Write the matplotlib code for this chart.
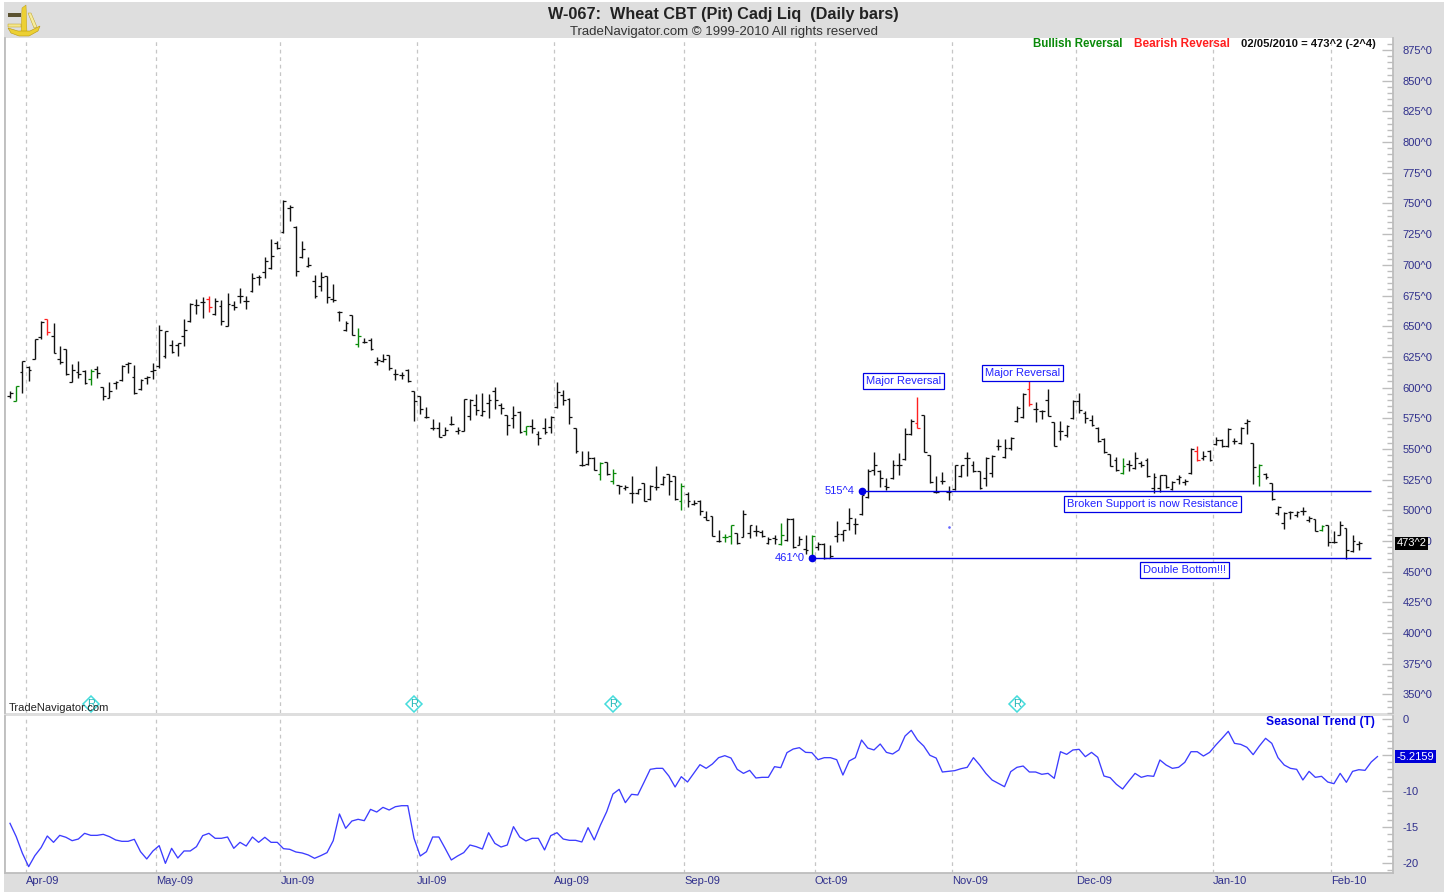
import matplotlib
matplotlib.use('Agg')
import matplotlib.pyplot as plt
import numpy as np
from matplotlib.patches import Polygon, Rectangle
from matplotlib.ticker import AutoMinorLocator, FuncFormatter, MultipleLocator

plt.rcParams['font.family'] = ['Liberation Sans', 'DejaVu Sans']
plt.rcParams['axes.unicode_minus'] = False

# daily bars, oldest first
highs = [
    597.5, 601.3, 621.3, 617.3, 639.8, 653.9, 655.8, 652.5, 633.5, 631.6,
    619.2, 621.3, 614, 615, 617.8, 600.7, 604.8, 605.3, 618.6, 621,
    618.4, 607.2, 609.7, 619.7, 651, 646.3, 639, 636, 655.8, 668.8,
    672.3, 673.7, 674.8, 672.6, 671, 677.2, 670.2, 681.3, 674.8, 693.2,
    691.6, 706, 721.2, 719.6, 753, 748.9, 732, 719.6, 706, 691.6,
    693.8, 691.3, 684.3, 662.6, 653.9, 659.3, 648.5, 640, 640, 625.3,
    627.5, 626.7, 615, 612.6, 615, 596.9, 592.8, 584, 574.6, 571.9,
    567.8, 576.5, 567.8, 590.9, 590.6, 594.7, 596, 595, 600.1, 587.3,
    577.9, 585.2, 580.6, 568.9, 574.6, 564.3, 575.1, 577, 604.4, 598.2,
    591.4, 567, 548.6, 548.6, 543.1, 539, 539, 533.9, 520.9, 520.9,
    527.7, 517.6, 522.2, 520.3, 536.3, 528.2, 529.8, 528.2, 522.2, 514.6,
    508.7, 508.1, 499.2, 495.7, 483.8, 481.1, 488.4, 481.6, 500, 488.4,
    488.4, 484.3, 478.1, 480.3, 489.8, 493.8, 493.8, 478.9, 480.3, 479.7,
    474, 473.5, 471.6, 491.1, 484.3, 502, 493.8, 512.8, 533.7, 547.3,
    533.2, 526.4, 541.3, 546.7, 567, 574.4, 592.3, 577.9, 545.4, 528.3,
    531, 520.1, 537.2, 537.2, 547.3, 540, 532.4, 543.2, 544.8, 558.1,
    558.1, 559.5, 584.7, 595.6, 605, 588.2, 582, 598.8, 572, 573,
    569.3, 589.6, 595.6, 580.6, 577.9, 567.6, 558.9, 546.2, 543.2, 542.7,
    541.3, 547.5, 540.5, 542.7, 530.5, 529.1, 529.1, 523.7, 528.6, 525.8,
    550.8, 552.7, 548.1, 548.9, 559.8, 558.1, 567.1, 558.9, 567.6, 574.4,
    554.9, 537.8, 530.5, 522.3, 503.3, 498.7, 499.3, 499.8, 502.5, 495.2,
    493.3, 488.4, 488.4, 483, 491.1, 485.7, 479.7, 475.4,
]
lows = [
    591.5, 588.8, 596, 605, 623.2, 639.5, 643, 628, 619.4, 610.2,
    604.5, 607.5, 603, 601.8, 608, 589.6, 591.2, 599, 605.6, 611.8,
    595, 598.3, 603.2, 607.2, 616.2, 624, 628, 626, 633.5, 653.6,
    660, 656.6, 661.5, 659.3, 650.9, 649.8, 663.4, 668.8, 664.2, 678,
    683.2, 689.2, 697, 713, 726.3, 736, 691.3, 705.2, 698, 673.2,
    678.3, 668.8, 669.4, 653.9, 645.8, 642.8, 632.7, 636, 630.8, 618.6,
    620.5, 614, 606.3, 606.9, 604.4, 572.4, 578.7, 575, 565.1, 559.4,
    561, 569.2, 562.4, 564.3, 573.2, 577.9, 577, 575.1, 582.7, 578.7,
    561.6, 567, 563, 561, 562.9, 552.9, 562.4, 562.9, 583.3, 586,
    570.5, 546.7, 536.3, 537.2, 532.5, 525, 529, 521.7, 513.6, 516.8,
    506, 513.6, 507.3, 508.7, 516.3, 520.9, 512.7, 508.7, 500.5, 502.7,
    504, 496.5, 491.9, 478.9, 474, 474, 472.7, 472.7, 478.1, 477.6,
    478.9, 478.1, 472.9, 472.9, 472.1, 474.8, 469.4, 471.6, 464.5, 461.3,
    468, 460.7, 461.3, 474.3, 475.4, 484.3, 481.1, 496.5, 510.1, 529.1,
    519, 516.3, 525.6, 529.1, 541.3, 561.7, 567, 547.3, 522.3, 514.2,
    521.8, 508.7, 516.9, 527.2, 527.7, 531, 517.4, 519.6, 527.2, 548.9,
    542.7, 548.9, 571.7, 575.2, 584.7, 572, 574.4, 576.6, 552.2, 557,
    559.8, 574.4, 579.3, 571.2, 569, 555.4, 546.7, 535.9, 532.4, 529.9,
    531.8, 534, 535, 527.2, 514.2, 515, 518.2, 516.3, 521.8, 520.4,
    529.6, 539.9, 541.3, 540, 553, 551.6, 551.6, 554.3, 554, 562.5,
    521.8, 519.6, 525.8, 508.8, 496, 484.9, 493, 494.7, 496.5, 490.6,
    483, 483, 470.8, 473.5, 479.7, 460.7, 465.9, 467.5,
]
opens = [
    592.8, 589.3, 612.4, 616.4, 623.5, 640.9, 655.5, 641.7, 623.5, 631.3,
    604.8, 613, 613.7, 607, 615.4, 600.4, 591.8, 603.7, 605.9, 619.4,
    608.6, 599, 607.8, 613.7, 617.3, 625.4, 634.4, 634.9, 642.2, 653.9,
    667.5, 670, 672, 659.9, 666.6, 650.4, 667.2, 674.8, 670.4, 678.9,
    690, 693.8, 697.8, 717.6, 726.9, 746.4, 730.7, 706.3, 699, 687,
    683, 691, 672, 661.5, 646.6, 658.8, 635.5, 637.5, 639, 620.5,
    622, 626.2, 611, 610.4, 614.5, 596.9, 592.8, 576, 567.3, 567,
    561.6, 570.5, 564.8, 564.6, 576.5, 585.5, 577.6, 587.3, 597.4, 585.5,
    577.6, 575.1, 580.3, 564.3, 568.4, 562.1, 567.3, 567.8, 583.8, 594.1,
    591, 567, 537.2, 538, 542.6, 529.8, 539, 523.6, 520.3, 517.9,
    514.1, 514.4, 522, 509.2, 519, 521.4, 529.3, 527.7, 507.9, 513.6,
    505.4, 507.6, 494.6, 495.2, 474.8, 478.1, 478.9, 481.6, 478.4, 481.6,
    483, 482.4, 473.7, 477.6, 472.7, 475.7, 493.3, 472.1, 468.9, 462.6,
    470, 472.7, 461.3, 478.9, 481.1, 489.8, 489.2, 497.1, 510.7, 533.2,
    532.4, 519.6, 526.4, 537.2, 541.8, 562.5, 571.1, 577.4, 544.8, 515,
    523.7, 515, 517.4, 527.7, 542.7, 537.2, 531.8, 526.4, 530.5, 552.7,
    543.2, 550.8, 572.5, 576, 598.8, 582.8, 580.7, 590.1, 571.7, 564.4,
    561.7, 574.9, 588.8, 579.3, 573.9, 567.4, 558.4, 545.6, 541.3, 530.5,
    537.8, 534.5, 538.6, 541.3, 518.2, 518.2, 528.6, 517.4, 525.6, 523.1,
    530.2, 548.1, 542.7, 548.1, 554.3, 557, 552.2, 556.8, 554.9, 571.2,
    554.6, 527.7, 529.9, 522, 497.9, 489.8, 498.4, 496.5, 499.3, 492.5,
    493, 484.3, 487.9, 474, 480.3, 485.4, 466.7, 472.7,
]
closes = [
    595.6, 601, 621.3, 614, 639.5, 653.4, 645, 628, 620.5, 611,
    614, 610.8, 603.7, 613.5, 611.8, 592.8, 597.2, 604.5, 617.8, 620,
    596, 605.9, 609, 614, 647, 645.8, 629, 636, 646.6, 668.3,
    667.5, 670, 666, 670.2, 653.9, 667.7, 666, 674.8, 670.4, 689.4,
    690.5, 703, 707.3, 713.6, 751.8, 747.5, 695.1, 712.8, 699.7, 675,
    690.5, 673.4, 671.5, 661.8, 653, 643, 641.7, 637, 631.8, 622.6,
    623.2, 615.8, 611, 610.4, 605, 588.7, 582.7, 576, 567.3, 559.7,
    565.1, 570, 565.6, 590.6, 590, 582, 580.6, 589.5, 590, 583.3,
    569.2, 577.9, 563.5, 568.4, 567, 559.1, 563.5, 576, 596.8, 590,
    576, 548, 537.2, 542.6, 533, 538.5, 530, 530.4, 520, 519,
    514.1, 517.4, 507.6, 520, 519, 527.1, 523.6, 509.2, 519.5, 507.3,
    506, 499.7, 491.9, 478.9, 474.8, 478.1, 487.9, 473.5, 497.4, 487.9,
    483, 478.9, 477, 476.7, 480.3, 493.3, 470.2, 477, 468, 478.9,
    472.7, 461.3, 462.6, 481.1, 483.8, 493.8, 489.2, 512.3, 532.4, 537.2,
    526.4, 519, 537.2, 537.2, 562.5, 572.5, 567, 547.8, 523.1, 515,
    523.7, 515, 536.7, 536.7, 542.7, 531.8, 518.2, 542.7, 544.3, 552.7,
    550.8, 558.9, 583.4, 594.8, 586.6, 582.8, 580.7, 577.1, 552.7, 564.4,
    568.4, 588.8, 582, 575.2, 569.8, 556.8, 547.5, 536.4, 533.2, 535.9,
    537.2, 542.7, 537.2, 527.7, 527.2, 528.6, 519, 522.9, 527.2, 523.7,
    550.3, 541.3, 544.6, 541.3, 557.6, 552.7, 566.3, 556.2, 567.1, 572.5,
    535.3, 537.2, 527.2, 509.3, 502.5, 497.9, 498.4, 498.4, 499.3, 493.8,
    483.5, 487.6, 474, 474.6, 488.4, 468, 474.8, 473.25,
]
bullish_bars = [1, 13, 56, 83, 95, 97, 108, 115, 116, 124, 129, 179, 201, 211]
bearish_bars = [6, 32, 146, 164, 191]

# runs three bars past the last price bar
seasonal = [
    -14.49, -16.34, -18.66, -20.51, -18.98, -17.87, -16.25, -17.13, -16.16, -16.43,
    -16.90, -16.67, -15.88, -16.16, -16.16, -16.02, -16.34, -16.80, -16.99, -16.99,
    -16.71, -18.43, -19.44, -18.33, -17.59, -20.05, -17.96, -19.31, -18.33, -18.33,
    -17.73, -16.20, -15.88, -16.57, -16.57, -16.39, -17.96, -17.13, -17.64, -16.39,
    -17.13, -16.43, -17.13, -17.13, -18.01, -18.10, -18.47, -18.61, -18.89, -19.35,
    -18.98, -18.56, -16.90, -13.19, -15.18, -14.17, -13.93, -14.12, -12.55, -12.92,
    -12.27, -12.64, -12.18, -12.04, -12.04, -16.57, -19.03, -18.43, -16.39, -16.39,
    -17.96, -19.58, -19.03, -18.56, -17.50, -17.73, -18.06, -15.79, -17.27, -17.78,
    -17.50, -14.95, -16.39, -16.94, -16.57, -16.57, -18.19, -16.20, -15.79, -16.67,
    -16.85, -16.85, -17.08, -15.09, -16.80, -14.72, -12.87, -10.42, -9.77, -11.62,
    -10.46, -10.55, -8.79, -6.99, -6.85, -6.85, -7.92, -9.44, -8.01, -8.75,
    -7.55, -6.34, -6.85, -6.25, -5.37, -5.09, -5.42, -6.99, -7.55, -7.13,
    -8.19, -8.10, -8.10, -6.62, -6.76, -4.67, -4.17, -3.98, -4.63, -4.67,
    -5.65, -5.37, -5.37, -5.65, -7.78, -5.83, -5.37, -2.92, -4.03, -4.30,
    -3.47, -4.63, -4.86, -4.30, -2.36, -1.57, -2.92, -3.75, -5.04, -5.42,
    -7.36, -7.27, -7.17, -6.90, -6.71, -5.37, -6.39, -7.55, -8.47, -8.93,
    -9.40, -7.31, -6.71, -6.53, -7.36, -7.36, -7.68, -7.55, -8.24, -4.54,
    -4.91, -4.30, -4.21, -5.23, -4.63, -5.32, -7.92, -8.15, -9.07, -9.72,
    -8.61, -7.55, -8.10, -7.87, -7.96, -5.69, -6.39, -6.85, -6.71, -6.02,
    -4.54, -4.54, -5.14, -4.63, -3.61, -2.68, -1.71, -3.38, -3.52, -3.93,
    -4.95, -3.75, -2.68, -3.38, -5.37, -6.39, -6.85, -6.99, -8.47, -7.27,
    -8.10, -7.96, -8.75, -8.98, -7.55, -8.79, -7.27, -7.04, -7.13, -5.97,
    -5.2159,
]

month_bars = [3, 24, 44, 66, 88, 109, 130, 152, 172, 194, 213]
month_labels = ['Apr-09', 'May-09', 'Jun-09', 'Jul-09', 'Aug-09', 'Sep-09',
                'Oct-09', 'Nov-09', 'Dec-09', 'Jan-10', 'Feb-10']
rollover_bars = [13, 65, 97, 162]

support = 515.5
double_bottom = 461.0
last_close = 473.25

WIDTH, HEIGHT = 1450, 892
AXIS_GREY = '#bdbdbd'
BAND_GREY = '#dedede'
TICK_BLUE = '#2f2f8c'
NOTE_BLUE = '#2222ff'
GREEN = '#0a8a0a'
RED = '#ff2020'


def panel(fig, left, top, right, bottom):
    return fig.add_axes([left / WIDTH, 1 - bottom / HEIGHT,
                         (right - left) / WIDTH, (bottom - top) / HEIGHT])


def style_panel(ax, major, ymin, ymax, fmt):
    ax.set_xlim(-0.885, 222.5)
    ax.set_ylim(ymin, ymax)
    ax.set_xticks([])
    ax.yaxis.tick_right()
    ax.yaxis.set_major_locator(MultipleLocator(major))
    ax.yaxis.set_minor_locator(AutoMinorLocator(5))
    ax.yaxis.set_major_formatter(FuncFormatter(fmt))
    ax.tick_params(axis='y', which='major', direction='in', length=8, width=1,
                   color=AXIS_GREY, labelcolor=TICK_BLUE, labelsize=8, pad=7)
    ax.tick_params(axis='y', which='minor', direction='in', length=4, width=1,
                   color=AXIS_GREY)
    for name in ['top', 'bottom']:
        ax.spines[name].set_visible(False)
    for name in ['left', 'right']:
        ax.spines[name].set_color(AXIS_GREY)
        ax.spines[name].set_linewidth(1.3)
    for b in month_bars:
        ax.axvline(b - 0.5, color='#c6c6c6', lw=0.9, ls=(0, (3, 3)), zorder=1)


def draw_bars(ax):
    x = np.arange(len(highs))
    colors = ['#111111'] * len(highs)
    for b in bullish_bars:
        colors[b] = GREEN
    for b in bearish_bars:
        colors[b] = RED
    ax.vlines(x, lows, highs, colors=colors, lw=1.0, zorder=3)
    ax.hlines(opens, x - 0.45, x, colors=colors, lw=0.9, zorder=3)
    ax.hlines(closes, x, x + 0.45, colors=colors, lw=0.9, zorder=3)


def draw_levels(ax):
    ax.hlines(support, 137, 219, color='#0000e6', lw=1.0, zorder=4)
    ax.hlines(double_bottom, 129, 219, color='#0000e6', lw=1.0, zorder=4)
    ax.plot([137, 129], [support, double_bottom], 'o', color='#0000e6', ms=4.5, zorder=5)
    ax.plot([151], [486.2], 'o', color='#6666ff', ms=0.9, zorder=5)
    ax.text(135.8, support, '515^4', color=NOTE_BLUE, fontsize=8, ha='right', va='center')
    ax.text(127.8, double_bottom, '461^0', color=NOTE_BLUE, fontsize=8, ha='right', va='center')

    notes = [(143.8, 605.6, 'Major Reversal'), (162.9, 612.1, 'Major Reversal'),
             (183.8, 505.4, 'Broken Support is now Resistance'),
             (188.9, 451.7, 'Double Bottom!!!')]
    for x, y, label in notes:
        ax.text(x, y, label, color=NOTE_BLUE, fontsize=8, ha='center', va='center', zorder=6,
                bbox=dict(fc='white', ec='#0000e6', lw=0.9, boxstyle='square,pad=0.28'))


def draw_rollovers(ax):
    for b in rollover_bars:
        ax.plot([b], [342.6], 'D', ms=8.5, mfc='white', mec='#45dcdc', mew=1.1, zorder=4)
        ax.text(b, 342.6, 'R', color='#25b8b8', fontsize=8, ha='center', va='center', zorder=5)


def draw_logo(bg):
    gold = '#ecd033'
    dark = '#b8960c'
    bg.add_patch(Polygon([(28, 13), (31, 13), (37, 27), (34, 28)], fc='#f6ec9c', ec=dark, lw=0.3))
    bg.add_patch(Polygon([(22, 8), (26, 5), (27, 33), (21, 33)], fc=gold, ec=dark, lw=0.3))
    bg.add_patch(Polygon([(8, 28), (18, 31), (30, 31), (40, 26), (38, 31), (29, 36), (19, 36), (11, 33)],
                         fc=gold, ec=dark, lw=0.4))
    bg.add_patch(Rectangle((8, 13), 13, 4, fc='#5b5230', ec='none'))
    bg.add_patch(Rectangle((8, 24), 13, 3, fc='#f4e68c', ec=dark, lw=0.3))


def main():
    fig = plt.figure(figsize=(WIDTH / 100, HEIGHT / 100), dpi=100, facecolor='white')

    bg = fig.add_axes([0, 0, 1, 1], zorder=-1)
    bg.set_xlim(0, WIDTH)
    bg.set_ylim(HEIGHT, 0)
    bg.axis('off')
    bg.add_patch(Rectangle((4, 2), 1440, 890, fc=BAND_GREY, ec='none'))
    draw_logo(bg)
    bg.text(723, 14, 'W-067:  Wheat CBT (Pit) Cadj Liq  (Daily bars)', fontsize=11.7,
            fontweight='bold', color='#222222', ha='center', va='center')
    bg.text(724, 32, 'TradeNavigator.com \u00a9 1999-2010 All rights reserved', fontsize=9.55,
            color='#333333', ha='center', va='center')

    ax = panel(fig, 4.5, 38, 1393, 713)
    style_panel(ax, 25, 334.9, 884.8, lambda v, pos: '%d^0' % v)
    draw_bars(ax)
    draw_levels(ax)
    draw_rollovers(ax)

    ax.text(1033, 44, 'Bullish Reversal', transform=bg.transData, color=GREEN, fontsize=8.3,
            fontweight='bold', va='center')
    ax.text(1134, 44, 'Bearish Reversal', transform=bg.transData, color=RED, fontsize=8.5,
            fontweight='bold', va='center')
    ax.text(1241, 44, '02/05/2010 = 473^2 (-2^4)', transform=bg.transData, color='#111111',
            fontsize=8.15, fontweight='bold', va='center')
    ax.text(9, 708, 'TradeNavigator.com', transform=bg.transData, color='#222222', fontsize=8,
            va='center', zorder=6)
    ax.text(1.0025, last_close, '473^2', transform=ax.get_yaxis_transform(), color='white',
            fontsize=8, va='center', clip_on=False, zorder=8,
            bbox=dict(fc='black', ec='none', pad=1.2))

    ax2 = panel(fig, 4.5, 716, 1393, 873)
    style_panel(ax2, 5, -21.39, 0.42, lambda v, pos: '%d' % v)
    ax2.spines['bottom'].set_visible(True)
    ax2.spines['bottom'].set_color(AXIS_GREY)
    ax2.spines['bottom'].set_linewidth(1.3)
    ax2.plot(np.arange(len(seasonal)), seasonal, color='#3c3cff', lw=0.95, zorder=3)
    ax2.text(1266, 722, 'Seasonal Trend (T)', transform=bg.transData, color='#0000e6',
             fontsize=8.7, fontweight='bold', va='center')
    ax2.text(1.0025, seasonal[-1], '-5.2159', transform=ax2.get_yaxis_transform(), color='white',
             fontsize=8, va='center', clip_on=False, zorder=8,
             bbox=dict(fc='#0000d8', ec='none', pad=1.2))
    for b, label in zip(month_bars, month_labels):
        ax2.annotate(label, xy=(b - 0.5, 0), xycoords=('data', 'axes fraction'),
                     xytext=(0, -8), textcoords='offset pixels', color=TICK_BLUE,
                     fontsize=8, va='center', annotation_clip=False)

    fig.savefig('out.png', dpi=100, facecolor='white')
    plt.close(fig)


main()
